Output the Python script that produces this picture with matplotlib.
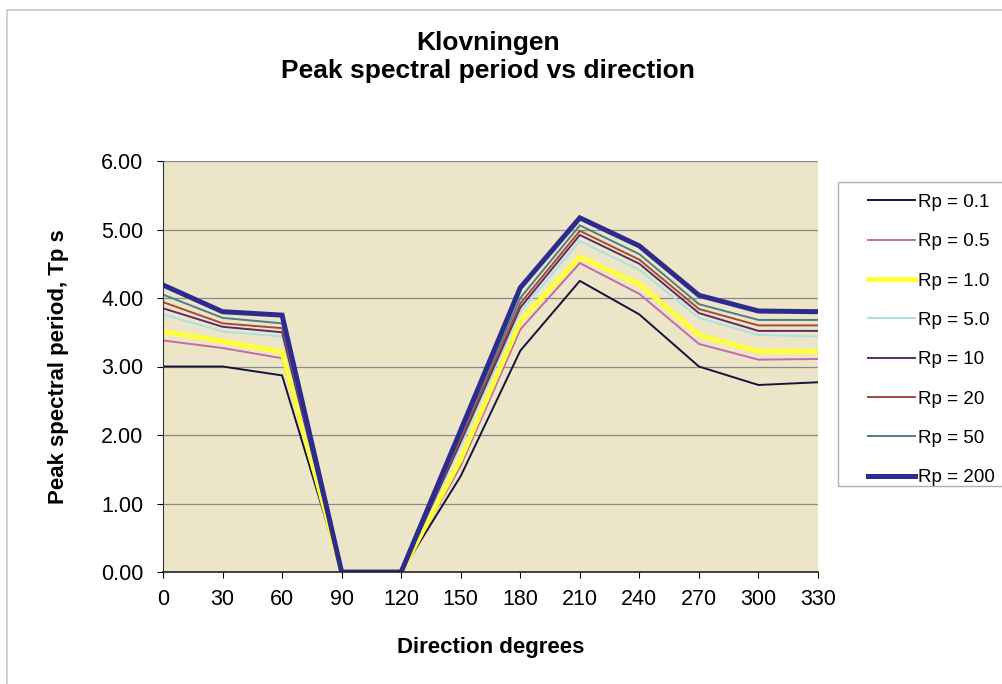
import matplotlib
matplotlib.use('Agg')
import matplotlib.pyplot as plt
from matplotlib.patches import Rectangle

# Directions (degrees) and peak spectral period per return period
directions = [0, 30, 60, 90, 120, 150, 180, 210, 240, 270, 300, 330]
series_labels = ["Rp = 0.1", "Rp = 0.5", "Rp = 1.0", "Rp = 5.0",
                 "Rp = 10", "Rp = 20", "Rp = 50", "Rp = 200"]
rp_01 = [3.00, 3.00, 2.87, 0, 0, 1.40, 3.23, 4.25, 3.76, 3.00, 2.73, 2.77]
rp_05 = [3.38, 3.27, 3.12, 0, 0, 1.55, 3.54, 4.51, 4.06, 3.33, 3.10, 3.11]
rp_1 = [3.51, 3.37, 3.21, 0, 0, 1.65, 3.66, 4.60, 4.20, 3.46, 3.22, 3.22]
rp_5 = [3.76, 3.51, 3.44, 0, 0, 1.85, 3.80, 4.83, 4.41, 3.71, 3.46, 3.44]
rp_10 = [3.85, 3.58, 3.50, 0, 0, 1.90, 3.86, 4.92, 4.50, 3.78, 3.52, 3.52]
rp_20 = [3.94, 3.63, 3.56, 0, 0, 1.95, 3.92, 4.98, 4.56, 3.84, 3.60, 3.60]
rp_50 = [4.05, 3.71, 3.63, 0, 0, 2.00, 4.00, 5.06, 4.64, 3.91, 3.68, 3.68]
rp_200 = [4.19, 3.80, 3.75, 0, 0, 2.07, 4.15, 5.17, 4.76, 4.04, 3.81, 3.80]
y_ticks = [0, 1, 2, 3, 4, 5, 6]

plt.rcParams['font.family'] = ['Liberation Sans', 'DejaVu Sans']

W, H = 1003, 684
fig = plt.figure(figsize=(W / 100, H / 100), dpi=100)
fig.patch.set_facecolor('white')
# outer chart border
fig.patches.append(Rectangle((7 / W, -0.02), 1.1, 1 - 10 / H + 0.02,
                             transform=fig.transFigure, fill=False,
                             edgecolor='#c8c8c8', linewidth=1.2))
# legend box (drawn by hand so the handles can sit inset from the edge)
fig.patches.append(Rectangle((838 / W, 1 - 486 / H), 0.2, 304 / H,
                             transform=fig.transFigure, fill=False,
                             edgecolor='#b0b0b0', linewidth=1.0))

ax = fig.add_axes([163 / W, 1 - 572 / H, 655 / W, 411 / H])
ax.set_facecolor('#ece5c8')

all_series = [rp_01, rp_05, rp_1, rp_5, rp_10, rp_20, rp_50, rp_200]
colors = ['#14143a', '#c46aa6', '#ffff3a', '#a8e2e4',
          '#5a2a6a', '#a44a36', '#4e7f86', '#2c2c8e']
widths = [1.4, 1.4, 3.6, 1.4, 1.4, 1.4, 1.4, 3.6]
for vals, lab, c, w in zip(all_series, series_labels, colors, widths):
    ax.plot(directions, vals, color=c, linewidth=w, label=lab,
            solid_joinstyle='miter')

ax.set_xlim(0, 330)
ax.set_ylim(0, 6)
ax.set_xticks(directions)
ax.set_yticks(y_ticks)
ax.set_yticklabels([f"{v:.2f}" for v in y_ticks])
ax.tick_params(axis='both', labelsize=15.5, direction='out', length=4,
               width=0.8, colors='black')
ax.tick_params(axis='x', pad=8)
ax.tick_params(axis='y', pad=10)
ax.yaxis.grid(True, color='#8a8a8a', linewidth=0.9)
ax.set_axisbelow(True)
for side in ['top', 'right']:
    ax.spines[side].set_visible(False)
ax.spines['left'].set_color('#333333')
ax.spines['bottom'].set_color('#222222')
ax.spines['bottom'].set_linewidth(1.2)

ax.set_xlabel("Direction degrees", fontsize=16, fontweight='bold', labelpad=20)
ax.set_ylabel("Peak spectral period, Tp s", fontsize=16, fontweight='bold', labelpad=23)

fig.text(488 / W, 1 - 50 / H, "Klovningen", ha='center', va='baseline',
         fontsize=19, fontweight='bold')
fig.text(488 / W, 1 - 78 / H, "Peak spectral period vs direction",
         ha='center', va='baseline', fontsize=19, fontweight='bold')

leg = ax.legend(loc='upper left', bbox_to_anchor=(862 / W, 1 - 188 / H),
                bbox_transform=fig.transFigure, fontsize=13.6, frameon=False,
                handlelength=2.5, handletextpad=0.15, labelspacing=1.17,
                borderpad=0.3, borderaxespad=0)

fig.savefig("out.png", dpi=100)
